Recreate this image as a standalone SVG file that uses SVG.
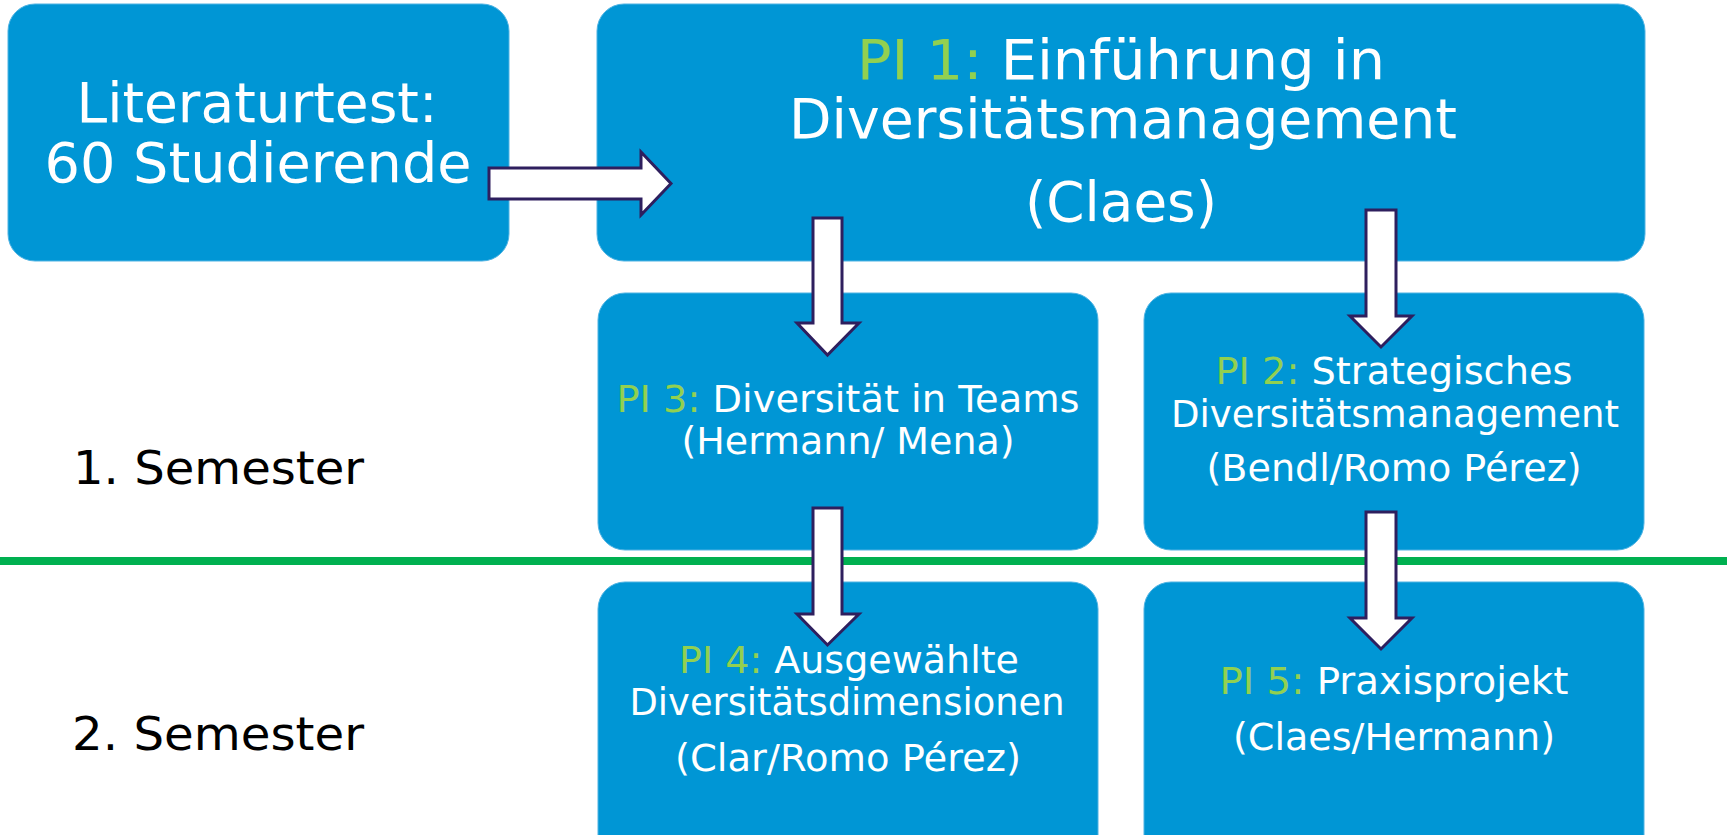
<svg xmlns="http://www.w3.org/2000/svg" width="1727" height="835" viewBox="0 0 1727 835">
<style>
.box{fill:#0096D5;stroke:#4FB3E3;stroke-width:1}
.t{font-family:"DejaVu Sans","Verdana",sans-serif;fill:#FFFFFF;text-anchor:middle}
.big{font-size:55px}
.sm{font-size:37px}
.g{fill:#92D050}
.sem{font-family:"DejaVu Sans","Verdana",sans-serif;font-size:47px;fill:#000000}
.arr{fill:#FFFFFF;stroke:#2E1F5E;stroke-width:3;stroke-linejoin:miter}
</style>
<rect width="1727" height="835" fill="#FFFFFF"/>
<g id="divider">
<rect x="0" y="557" width="1727" height="8" fill="#00B050"/>
</g>
<g id="literaturtest">
<rect class="box" x="8" y="4" width="501" height="257" rx="27" ry="27"/>
<text class="t big" x="257" y="122" textLength="361" lengthAdjust="spacingAndGlyphs">Literaturtest:</text>
<text class="t big" x="258" y="182" textLength="427" lengthAdjust="spacingAndGlyphs">60 Studierende</text>
</g>
<g id="pi1">
<rect class="box" x="597" y="4" width="1048" height="257" rx="27" ry="27"/>
<text class="t big" x="1121" y="79" textLength="528" lengthAdjust="spacingAndGlyphs"><tspan class="g">PI 1:</tspan> Einführung in</text>
<text class="t big" x="1123" y="138" textLength="668" lengthAdjust="spacingAndGlyphs">Diversitätsmanagement</text>
<text class="t big" x="1121" y="221" textLength="192" lengthAdjust="spacingAndGlyphs">(Claes)</text>
</g>
<g id="pi3">
<rect class="box" x="598" y="293" width="500" height="257" rx="27" ry="27"/>
<text class="t sm" x="848" y="412" textLength="463" lengthAdjust="spacingAndGlyphs"><tspan class="g">PI 3:</tspan> Diversität in Teams</text>
<text class="t sm" x="848" y="454" textLength="333" lengthAdjust="spacingAndGlyphs">(Hermann/ Mena)</text>
</g>
<g id="pi2">
<rect class="box" x="1144" y="293" width="500" height="257" rx="27" ry="27"/>
<text class="t sm" x="1394" y="384" textLength="357" lengthAdjust="spacingAndGlyphs"><tspan class="g">PI 2:</tspan> Strategisches</text>
<text class="t sm" x="1395" y="427" textLength="448" lengthAdjust="spacingAndGlyphs">Diversitätsmanagement</text>
<text class="t sm" x="1394" y="481" textLength="375" lengthAdjust="spacingAndGlyphs">(Bendl/Romo Pérez)</text>
</g>
<g id="pi4">
<rect class="box" x="598" y="582" width="500" height="290" rx="27" ry="27"/>
<text class="t sm" x="849" y="673" textLength="340" lengthAdjust="spacingAndGlyphs"><tspan class="g">PI 4:</tspan> Ausgewählte</text>
<text class="t sm" x="847" y="715" textLength="435" lengthAdjust="spacingAndGlyphs">Diversitätsdimensionen</text>
<text class="t sm" x="848" y="771" textLength="346" lengthAdjust="spacingAndGlyphs">(Clar/Romo Pérez)</text>
</g>
<g id="pi5">
<rect class="box" x="1144" y="582" width="500" height="290" rx="27" ry="27"/>
<text class="t sm" x="1394" y="694" textLength="349" lengthAdjust="spacingAndGlyphs"><tspan class="g">PI 5:</tspan> Praxisprojekt</text>
<text class="t sm" x="1394" y="750" textLength="322" lengthAdjust="spacingAndGlyphs">(Claes/Hermann)</text>
</g>
<g id="semester1">
<text class="sem" x="73" y="484" textLength="291" lengthAdjust="spacingAndGlyphs">1. Semester</text>
</g>
<g id="semester2">
<text class="sem" x="72" y="750" textLength="292" lengthAdjust="spacingAndGlyphs">2. Semester</text>
</g>
<g id="connectors">
<path class="arr" d="M489,168 L641,168 L641,152 L671,183.5 L641,215 L641,199 L489,199 Z"/>
<path class="arr" d="M813,218 L842,218 L842,323 L859,323 L827.5,355 L797,323 L813,323 Z"/>
<path class="arr" d="M1366,210 L1396,210 L1396,316 L1412,316 L1381,347 L1350,316 L1366,316 Z"/>
<path class="arr" d="M813,508 L842,508 L842,614 L859,614 L827.5,645 L797,614 L813,614 Z"/>
<path class="arr" d="M1366,512 L1396,512 L1396,618 L1412,618 L1381,649 L1350,618 L1366,618 Z"/>
</g>
</svg>
